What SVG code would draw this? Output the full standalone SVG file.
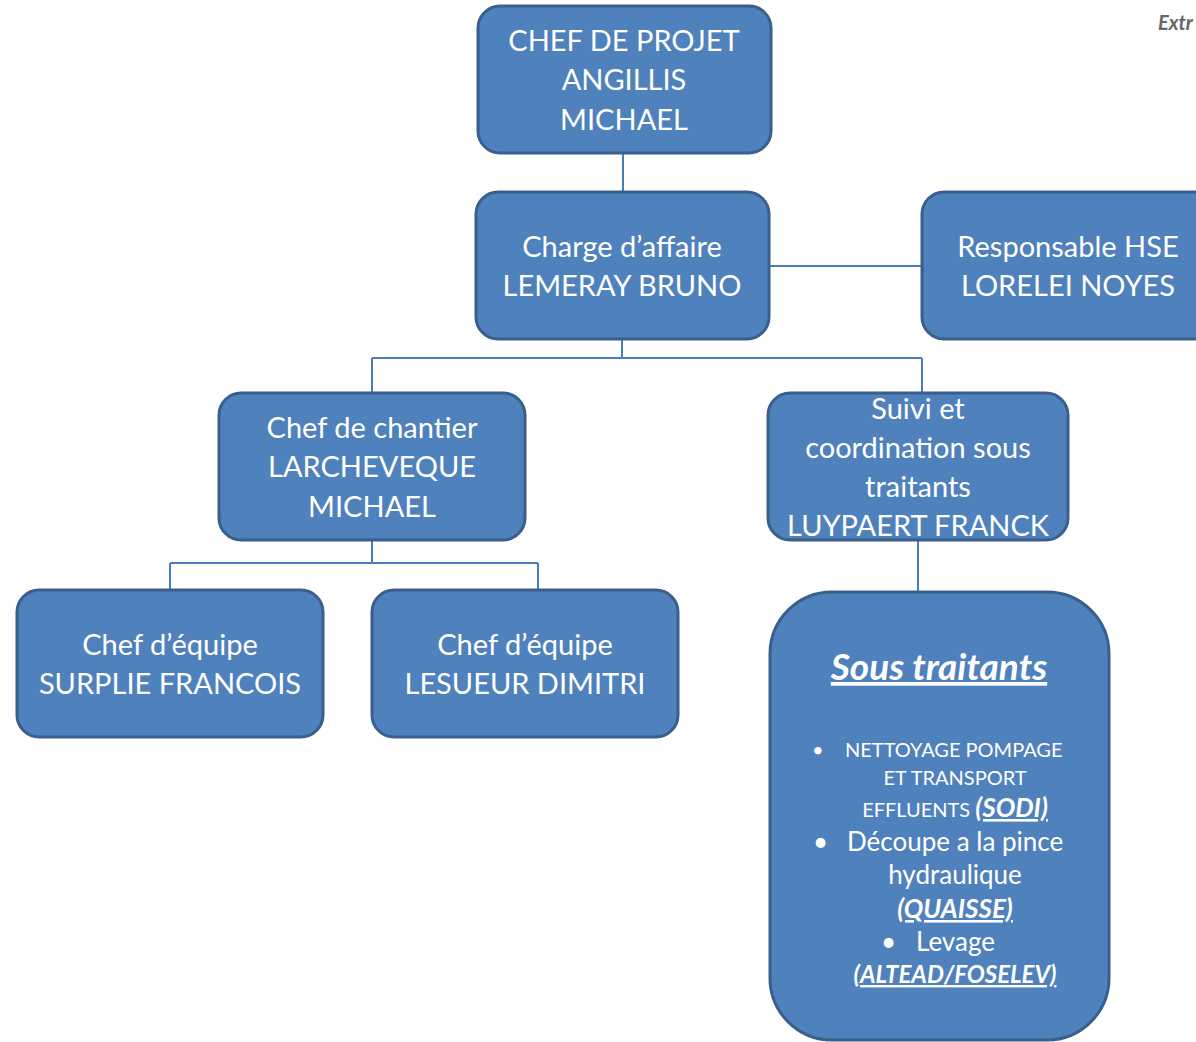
<svg xmlns="http://www.w3.org/2000/svg" width="1196" height="1042" viewBox="0 0 1196 1042">
<style>
.box{fill:#4F81BD;stroke:#3A5F8C;stroke-width:3}
.t{font-family:Lato,"Open Sans",sans-serif;fill:#fff;font-size:29px;text-anchor:middle}
.s{font-family:Lato,"Open Sans",sans-serif;fill:#fff;font-size:26px}
.n{font-size:20px}
.b{font-weight:bold;font-style:italic;text-decoration:underline}
.ln{stroke:#4A7EBB;stroke-width:2;fill:none}
</style>
<rect width="1196" height="1042" fill="#fff"/>
<text x="1158" y="30" font-family="Lato,sans-serif" font-size="20" font-style="italic" font-weight="bold" fill="#666">Extr</text>
<g id="connectors">
<path class="ln" d="M623,153V192"/>
<path class="ln" d="M769,266H922"/>
<path class="ln" d="M622,339V358M372,358H922M372,358V393M922,358V393"/>
<path class="ln" d="M372,540V563M170,563H538M170,563V590M538,563V590"/>
<path class="ln" d="M918,540V600"/>
</g>
<g id="chef-projet">
<rect class="box" x="478" y="6" width="293" height="147" rx="22"/>
<text class="t" x="624" y="51">CHEF DE PROJET</text>
<text class="t" x="624" y="90">ANGILLIS</text>
<text class="t" x="624" y="130">MICHAEL</text>
</g>
<g id="charge-affaire">
<rect class="box" x="476" y="192" width="293" height="147" rx="22"/>
<text class="t" x="622" y="257">Charge d’affaire</text>
<text class="t" x="622" y="296">LEMERAY BRUNO</text>
</g>
<g id="hse">
<rect class="box" x="922" y="192" width="300" height="147" rx="22"/>
<text class="t" x="1068" y="257">Responsable HSE</text>
<text class="t" x="1068" y="296">LORELEI NOYES</text>
</g>
<g id="chef-chantier">
<rect class="box" x="219" y="393" width="306" height="147" rx="22"/>
<text class="t" x="372" y="438">Chef de chantier</text>
<text class="t" x="372" y="477">LARCHEVEQUE</text>
<text class="t" x="372" y="517">MICHAEL</text>
</g>
<g id="suivi">
<rect class="box" x="768" y="393" width="300" height="147" rx="22"/>
<text class="t" x="918" y="419">Suivi et</text>
<text class="t" x="918" y="458">coordination sous</text>
<text class="t" x="918" y="497">traitants</text>
<text class="t" x="918" y="536">LUYPAERT FRANCK</text>
</g>
<g id="chef-equipe-1">
<rect class="box" x="17" y="590" width="306" height="147" rx="22"/>
<text class="t" x="170" y="655">Chef d’équipe</text>
<text class="t" x="170" y="694">SURPLIE FRANCOIS</text>
</g>
<g id="chef-equipe-2">
<rect class="box" x="372" y="590" width="306" height="147" rx="22"/>
<text class="t" x="525" y="655">Chef d’équipe</text>
<text class="t" x="525" y="694">LESUEUR DIMITRI</text>
</g>
<g id="sous-traitants">
<rect class="box" x="770" y="592" width="339" height="448" rx="62"/>
<text class="t b" x="939" y="680" style="font-size:37px">Sous traitants</text>
<text class="s n" x="812" y="757">•</text>
<text class="s n" x="845" y="757">NETTOYAGE POMPAGE</text>
<text class="s n" x="955" y="785" text-anchor="middle">ET TRANSPORT</text>
<text class="s" x="955" y="817" text-anchor="middle"><tspan class="n">EFFLUENTS </tspan><tspan class="b">(SODI)</tspan></text>
<text class="s" x="813" y="851">•</text>
<text class="s" x="847" y="851">Découpe a la pince</text>
<text class="s" x="955" y="884" text-anchor="middle">hydraulique</text>
<text class="s b" x="955" y="918" text-anchor="middle">(QUAISSE)</text>
<text class="s" x="881" y="951">•</text>
<text class="s" x="916" y="951">Levage</text>
<text class="s b" x="955" y="983" text-anchor="middle" style="font-size:24px">(ALTEAD/FOSELEV)</text>
</g>
</svg>
